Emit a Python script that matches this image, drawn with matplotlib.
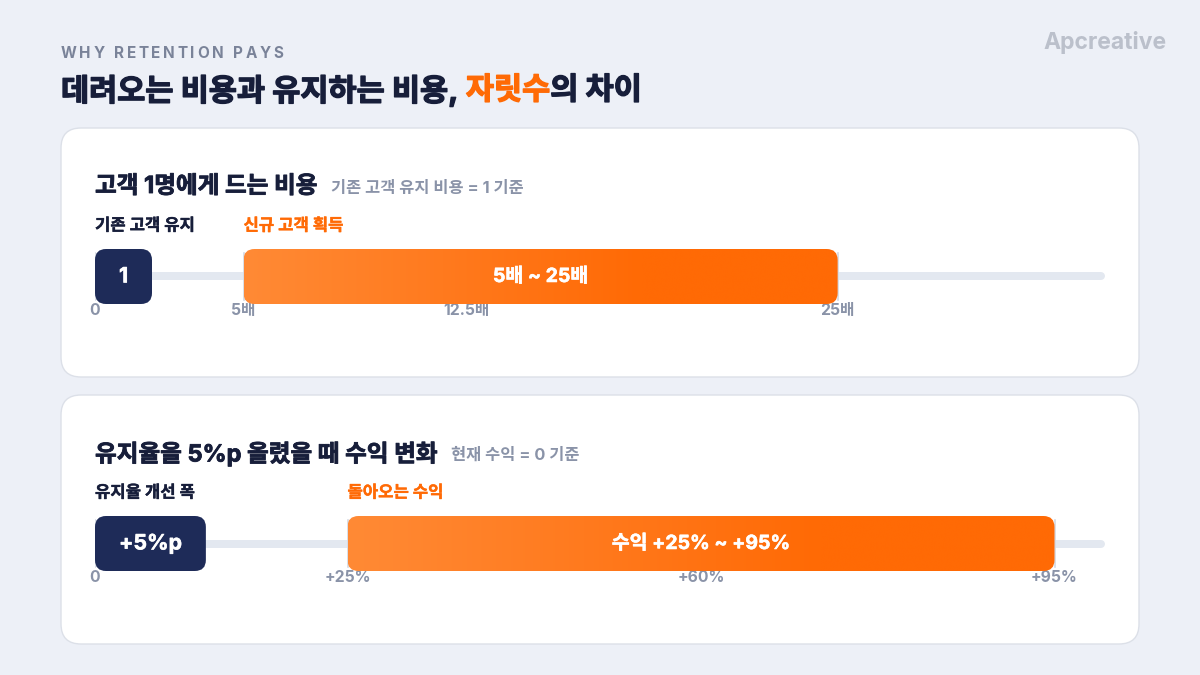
import numpy as np
import matplotlib
matplotlib.use('Agg')
import matplotlib.pyplot as plt
import matplotlib.patheffects as pe
from matplotlib.patches import FancyBboxPatch
from matplotlib.colors import LinearSegmentedColormap

plt.rcParams['font.family'] = ['Inter', 'Noto Sans CJK KR', 'DejaVu Sans']

# ---------------- data ----------------
header = "WHY RETENTION PAYS"
title_parts = ["데려오는 비용과 유지하는 비용, ", "자릿수", "의 차이"]
title_highlight = [False, True, False]
brand = "Apcreative"

card_titles = ["고객 1명에게 드는 비용", "유지율을 5%p 올렸을 때 수익 변화"]
card_notes = ["기존 고객 유지 비용 = 1 기준", "현재 수익 = 0 기준"]
base_labels = ["기존 고객 유지", "유지율 개선 폭"]
range_labels = ["신규 고객 획득", "돌아오는 수익"]
base_values = [1, 5]
base_texts = ["1", "+5%p"]
range_low = [5, 25]
range_high = [25, 95]
range_texts = ["5배 ~ 25배", "수익 +25% ~ +95%"]
axis_max = [34, 100]
tick_values = [[0, 5, 12.5, 25], [0, 25, 60, 95]]
tick_labels = [["0", "5배", "12.5배", "25배"], ["0", "+25%", "+60%", "+95%"]]

# ---------------- style ----------------
W, H = 1200, 675
BG = '#EDF0F7'
DARK = '#171E3A'
NAVY = '#1E2B58'
ORANGE = '#FF6A05'
ORANGE_L = '#FF8A35'
GRAY = '#8A93A8'
HEAD_GRAY = '#7A8399'
TRACK = '#E3E8F0'
CARD_EDGE = '#DCE0E8'


def heavy(color, lw):
    return [pe.withStroke(linewidth=lw, foreground=color)]


fig = plt.figure(figsize=(W / 100, H / 100), dpi=100)
fig.patch.set_facecolor(BG)
bg = fig.add_axes([0, 0, 1, 1])
bg.set_xlim(0, W)
bg.set_ylim(H, 0)
bg.axis('off')
renderer = fig.canvas.get_renderer()


def text_width_px(t):
    bb = t.get_window_extent(renderer=renderer)
    return bb.width


# header with letter spacing
x = 61
for ch in header:
    t = bg.text(x, 53, ch, fontsize=11, fontweight='bold', color=HEAD_GRAY,
                va='center', ha='left')
    x += text_width_px(t) + 2.6 if ch != ' ' else 7

# main title
x = 61
for part, hl in zip(title_parts, title_highlight):
    c = ORANGE if hl else DARK
    t = bg.text(x, 91, part, fontsize=22, fontweight='bold', color=c,
                va='center', ha='left', path_effects=heavy(c, 1.0))
    x += text_width_px(t)

# brand
bg.text(1167, 43, brand, fontsize=16.5, fontweight='bold', color='#BBC0CB',
        va='center', ha='right')

card_tops = [128, 395]
CARD_H = 249
BAR_H = 55
TRACK_X0, TRACK_X1 = 95, 1105

cmap = LinearSegmentedColormap.from_list('og', [ORANGE_L, '#FF7A1E', ORANGE, ORANGE])

for i in range(2):
    top = card_tops[i]
    card = FancyBboxPatch((61, top), 1078, CARD_H,
                          boxstyle='round,pad=0,rounding_size=20',
                          facecolor='white', edgecolor=CARD_EDGE, lw=1, zorder=1)
    bg.add_patch(card)

    t = bg.text(95, top + 59, card_titles[i], fontsize=17, fontweight='bold',
                color=DARK, va='center', ha='left', zorder=3,
                path_effects=heavy(DARK, 0.6))
    tw = text_width_px(t)
    bg.text(95 + tw + 13, top + 60, card_notes[i], fontsize=11.8,
            fontweight='bold', color=GRAY, va='center', ha='left', zorder=3)

    bar_top = top + 121
    ax = fig.add_axes([TRACK_X0 / W, 1 - (bar_top + BAR_H) / H,
                       (TRACK_X1 - TRACK_X0) / W, BAR_H / H])
    ax.set_xlim(0, axis_max[i])
    ax.set_ylim(0, 1)
    ax.axis('off')
    ax.patch.set_alpha(0)

    xupp = axis_max[i] / (TRACK_X1 - TRACK_X0)   # data units per pixel (x)
    yupp = 1.0 / BAR_H                            # data units per pixel (y)
    r_px = 11

    # track
    ax.plot([4 * xupp, axis_max[i] - 4 * xupp], [0.5, 0.5], color=TRACK,
            lw=8 * 0.72, solid_capstyle='round', zorder=1)
    # tick guides
    for tv in tick_values[i]:
        ax.plot([tv, tv], [0.08, 0.92], color='#D3D9E3', lw=1.2, zorder=1.5)

    # base (dark) bar: width at least label width + padding
    lbl = ax.text(0, 0.5, base_texts[i], fontsize=15.3, fontweight='bold',
                  color='white', va='center', ha='center', zorder=6,
                  path_effects=heavy('white', 0.4))
    min_w = (text_width_px(lbl) + 48) * xupp
    bw = max(base_values[i], min_w)
    lbl.set_x(bw / 2)
    dark = FancyBboxPatch((0, 0), bw, 1,
                          boxstyle=f'round,pad=0,rounding_size={r_px * xupp}',
                          mutation_aspect=yupp / xupp,
                          facecolor=NAVY, edgecolor='none', zorder=4)
    ax.add_patch(dark)

    # range (orange) bar with gradient
    x0, x1 = range_low[i], range_high[i]
    rb = FancyBboxPatch((x0, 0), x1 - x0, 1,
                        boxstyle=f'round,pad=0,rounding_size={r_px * xupp}',
                        mutation_aspect=yupp / xupp,
                        facecolor='none', edgecolor='none', zorder=4)
    ax.add_patch(rb)
    im = ax.imshow(np.linspace(0, 1, 256).reshape(1, -1), cmap=cmap,
                   extent=(x0, x1, 0, 1), aspect='auto', zorder=4,
                   interpolation='bicubic')
    im.set_clip_path(rb)
    ax.set_xlim(0, axis_max[i])
    ax.set_ylim(0, 1)
    ax.text((x0 + x1) / 2, 0.5, range_texts[i], fontsize=14, fontweight='bold',
            color='white', va='center', ha='center', zorder=6,
            path_effects=heavy('white', 0.4))

    # labels above bars
    ax.text(0, 1 + 23 / BAR_H, base_labels[i], fontsize=12, fontweight='bold',
            color=DARK, va='center', ha='left', transform=ax.get_xaxis_transform(),
            clip_on=False, path_effects=heavy(DARK, 0.3))
    ax.text(x0, 1 + 23 / BAR_H, range_labels[i], fontsize=12, fontweight='bold',
            color=ORANGE, va='center', ha='left', transform=ax.get_xaxis_transform(),
            clip_on=False, path_effects=heavy(ORANGE, 0.3))

    # tick labels below
    for tv, tl in zip(tick_values[i], tick_labels[i]):
        ax.text(tv, -7 / BAR_H, tl, fontsize=11.3, fontweight='bold', color=GRAY,
                va='center', ha='center', transform=ax.get_xaxis_transform(),
                clip_on=False)

fig.savefig('out.png', dpi=100, facecolor=BG)
